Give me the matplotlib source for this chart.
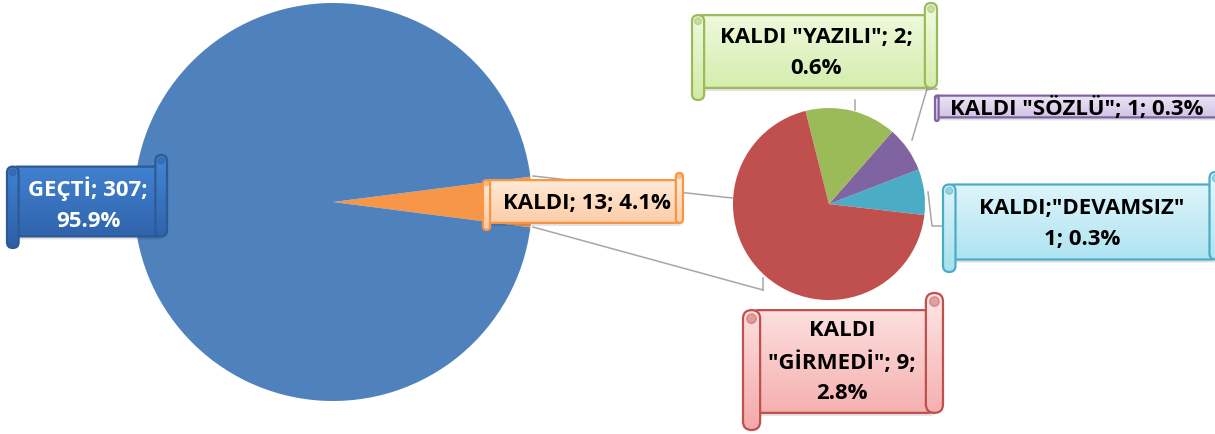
import matplotlib
matplotlib.use("Agg")
import numpy as np
import matplotlib.pyplot as plt
from matplotlib.patches import FancyBboxPatch, Circle
from matplotlib.colors import LinearSegmentedColormap

W, H = 1215, 434

# main pie
main_labels = ["GEÇTİ", "KALDI"]
main_values = [307, 13]
main_colors = ["#4F81BD", "#F79646"]

# secondary pie (split of KALDI), counter-clockwise from the right
sub_labels = ['KALDI;"DEVAMSIZ"', 'KALDI "SÖZLÜ"', 'KALDI "YAZILI"', 'KALDI\n"GİRMEDİ"']
sub_values = [1, 1, 2, 9]
sub_colors = ["#4BACC6", "#8064A2", "#9BBB59", "#C0504D"]

total = sum(main_values)
LINE = "#A6A6A6"

plt.rcParams["font.family"] = ["Open Sans", "DejaVu Sans"]

fig = plt.figure(figsize=(W / 100, H / 100), dpi=100)
ax = fig.add_axes([0, 0, 1, 1])


def py(y):
    """Pixel row (from top) to data y."""
    return H - y


def label_text(name, value, sep1="; ", sep2="; "):
    return f"{name}{sep1}{value}{sep2}{value / total * 100:.1f}%"


def grad_fill(patch, top, bottom, ext, z):
    cmap = LinearSegmentedColormap.from_list("g", [bottom, top])
    g = np.linspace(0, 1, 64).reshape(-1, 1)
    im = ax.imshow(g, cmap=cmap, extent=ext, origin="lower",
                   aspect="auto", zorder=z, interpolation="bilinear")
    im.set_clip_path(patch)


def scroll(x0, y0, x1, y1, top, bottom, edge, z=5):
    """Horizontal scroll shape, pixel box (y from top)."""
    h = 0.125 * (y1 - y0)
    Y0, Y1 = py(y1), py(y0)
    ext = (x0, x1, Y0, Y1)
    # soft shadow
    sh = FancyBboxPatch((x0 + h / 2 + 2, Y0 + h - 3), x1 - x0 - h, Y1 - Y0 - 2 * h,
                        boxstyle=f"round,pad=0,rounding_size={h * 0.4}",
                        fc="#000000", ec="none", alpha=0.12, zorder=z - 0.5)
    ax.add_patch(sh)
    parts = [
        (x0 + h / 2, Y0 + h, x1 - x0 - h, Y1 - Y0 - 2 * h, h * 0.4),  # body
        (x1 - h, Y0 + h, h, Y1 - Y0 - h, h / 2),                     # right roll
        (x0, Y0, h, Y1 - Y0 - h, h / 2),                             # left roll
    ]
    for i, (bx, by, bw, bh, rs) in enumerate(parts):
        p = FancyBboxPatch((bx, by), bw, bh,
                           boxstyle=f"round,pad=0,rounding_size={rs}",
                           fc="none", ec=edge, lw=1.6, zorder=z + i * 0.1 + 0.05)
        ax.add_patch(p)
        grad_fill(p, top, bottom, ext, z + i * 0.1)
    # curls
    ax.add_patch(Circle((x0 + h / 2, Y1 - h - h / 2), h * 0.28, fc=edge,
                        ec=edge, alpha=0.45, zorder=z + 0.3))
    ax.add_patch(Circle((x1 - h / 2, Y1 - h / 2), h * 0.28, fc=edge,
                        ec=edge, alpha=0.45, zorder=z + 0.3))


# pies
ax.pie(main_values[::-1], colors=main_colors[::-1], center=(333, py(202)),
       radius=199, startangle=-main_values[1] / total * 180, counterclock=True,
       explode=[0.012, 0], wedgeprops=dict(linewidth=0))
ax.pie(sub_values, colors=sub_colors, center=(829, py(204)), radius=96,
       startangle=-6.6, counterclock=True, explode=[0, 0, 0, 0.045],
       wedgeprops=dict(linewidth=0))

# series lines and leader lines
ax.plot([533, 732], [py(176), py(198)], color=LINE, lw=1.1, zorder=2)
ax.plot([533, 763], [py(227), py(290)], color=LINE, lw=1.1, zorder=2)
ax.plot([763, 763], [py(290), py(278)], color=LINE, lw=1.1, zorder=2)
ax.plot([855, 855], [py(100), py(110)], color=LINE, lw=1.1, zorder=2)
ax.plot([912, 927, 937], [py(140), py(89), py(89)], color=LINE, lw=1.1, zorder=2)
ax.plot([928, 932, 945], [py(192), py(226), py(226)], color=LINE, lw=1.1, zorder=2)

# label scrolls
scroll(7, 155, 167, 248, "#4486D6", "#2D5FA6", "#2C5A96")
scroll(483, 173, 683, 230, "#FFEEDF", "#FCC9A0", "#F79646")
scroll(692, 3, 937, 100, "#F2FBE3", "#D2EBA6", "#9BBB59")
scroll(935, 92, 1228, 121, "#F0EAF7", "#CDBDE2", "#8064A2")
scroll(943, 172, 1222, 272, "#E6F8FD", "#A6E0EF", "#4BACC6")
scroll(743, 293, 943, 430, "#FFE6E6", "#F4A9A9", "#C0504D")

fs = 16
tkw = dict(ha="center", va="center", fontsize=fs, fontweight="bold",
           linespacing=1.6, zorder=10)
ax.text(88, py(204), label_text(main_labels[0], main_values[0], "; ", ";\n"),
        color="white", **tkw)
ax.text(587, py(203), label_text(main_labels[1], main_values[1]), color="black", **tkw)
ax.text(816, py(53), label_text(sub_labels[2], sub_values[2], "; ", ";\n"),
        color="black", **tkw)
ax.text(1077, py(108), label_text(sub_labels[1], sub_values[1]), color="black", **tkw)
ax.text(1082, py(224), label_text(sub_labels[0], sub_values[0], "\n", "; "),
        color="black", **tkw)
ax.text(842, py(362), label_text(sub_labels[3], sub_values[3], "; ", ";\n"),
        color="black", **tkw)

ax.set_xlim(0, W)
ax.set_ylim(0, H)
ax.set_aspect("equal")
ax.axis("off")

fig.savefig("out.png", dpi=100, facecolor="white")
